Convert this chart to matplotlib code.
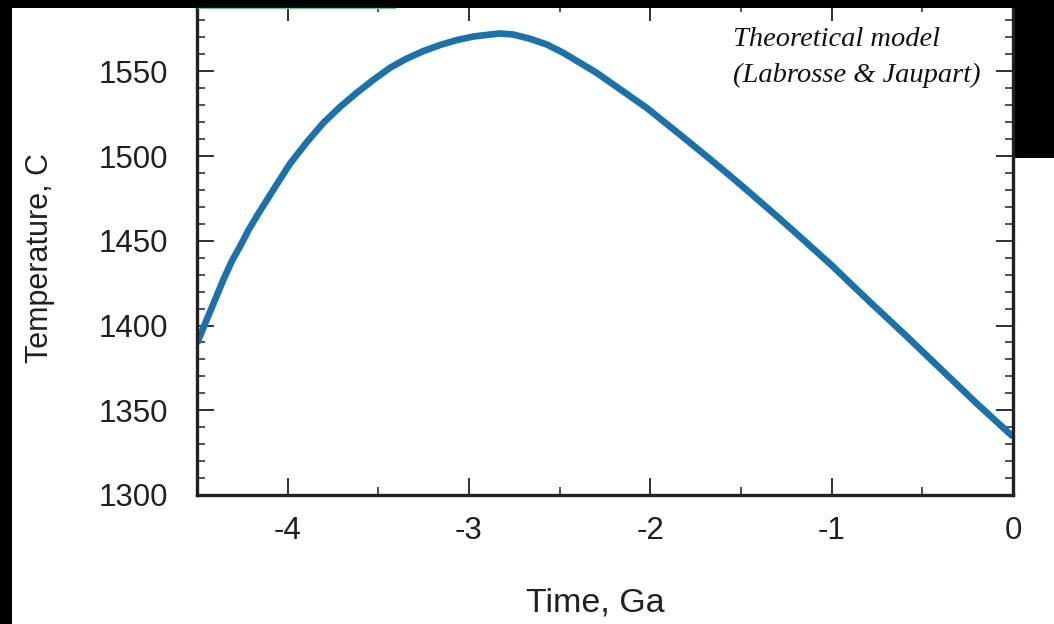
import matplotlib
matplotlib.use('Agg')
import matplotlib.pyplot as plt
from matplotlib.patches import Rectangle
from matplotlib.lines import Line2D
from matplotlib.ticker import MultipleLocator

plt.rcParams['font.family'] = ['Liberation Sans', 'DejaVu Sans']

# ── data ──
time_ga = [-4.5, -4.447, -4.401, -4.355, -4.309, -4.263, -4.217, -4.171, -4.079, -3.987,
           -3.895, -3.803, -3.711, -3.619, -3.527, -3.435, -3.344, -3.252, -3.160, -3.068,
           -2.976, -2.884, -2.829, -2.756, -2.664, -2.571, -2.480, -2.388, -2.296, -2.204,
           -2.112, -2.020, -1.928, -1.836, -1.744, -1.653, -1.561, -1.469, -1.303, -1.2,
           -1.0, -0.8, -0.6, -0.4, -0.2, 0.0]
temp_c = [1389.5, 1403.3, 1415.1, 1426.9, 1437.8, 1446.6, 1456.1, 1464.4, 1480.1, 1495.5,
          1508.1, 1519.6, 1529.0, 1537.3, 1545.0, 1552.1, 1557.5, 1561.9, 1565.5, 1568.4,
          1570.5, 1571.7, 1572.3, 1571.7, 1569.2, 1565.8, 1560.9, 1555.0, 1549.1, 1542.2,
          1535.3, 1528.4, 1520.5, 1512.6, 1504.6, 1496.6, 1488.4, 1480.0, 1464.6, 1454.8,
          1435.5, 1415.0, 1395.0, 1374.5, 1354.0, 1334.4]

xticks = [-4, -3, -2, -1, 0]
yticks = [1300, 1350, 1400, 1450, 1500, 1550]
note = 'Theoretical model\n(Labrosse & Jaupart)'

INK = '#231f20'
W, H = 1054, 624

fig = plt.figure(figsize=(W / 100, H / 100), dpi=100)
ax = fig.add_axes([197 / W, 1 - 495 / H, (1013 - 197) / W, (495 - 3.5) / H])

ax.plot(time_ga, temp_c, color='#1c71a9', lw=4.8, solid_capstyle='butt')

ax.set_xlim(-4.5, 0)
ax.set_ylim(1300, 1590)
ax.set_xticks(xticks)
ax.set_xticklabels([str(t) for t in xticks])
ax.set_yticks(yticks)
ax.xaxis.set_minor_locator(MultipleLocator(0.5))
ax.yaxis.set_minor_locator(MultipleLocator(10))

ax.tick_params(which='both', direction='in', top=True, right=True, colors=INK)
ax.tick_params(which='major', length=12, width=1.3, labelsize=22.5)
ax.tick_params(which='minor', length=6, width=1.1)
ax.tick_params(axis='x', which='major', pad=15)
ax.tick_params(axis='y', which='major', pad=21)
for s in ax.spines.values():
    s.set_linewidth(2.4)
    s.set_color(INK)

ax.set_xlabel('Time, Ga', fontsize=24.5, color=INK, labelpad=30)
ax.set_ylabel('Temperature, C', fontsize=22, color=INK, labelpad=31)
ax.xaxis.label.set_x(0.488)
ax.yaxis.label.set_y(0.482)

ax.text(0.657, 0.952, note, transform=ax.transAxes, ha='left', va='top',
        fontsize=20.5, style='italic', family=['Liberation Serif', 'DejaVu Serif'],
        color='#111111', linespacing=1.55)

# black frame strips from the original screenshot
for x0, y0, w, h in [(0, 0, 12, H), (0, 0, W, 7.5), (1015, 0, W - 1015, 158)]:
    fig.add_artist(Rectangle((x0 / W, 1 - (y0 + h) / H), w / W, h / H,
                             transform=fig.transFigure, color='black', zorder=10, lw=0))
fig.add_artist(Line2D([198 / W, 395 / W], [1 - 7.5 / H] * 2, transform=fig.transFigure,
                      color='#6cc47a', lw=0.9, zorder=11))

fig.savefig('out.png', dpi=100)
